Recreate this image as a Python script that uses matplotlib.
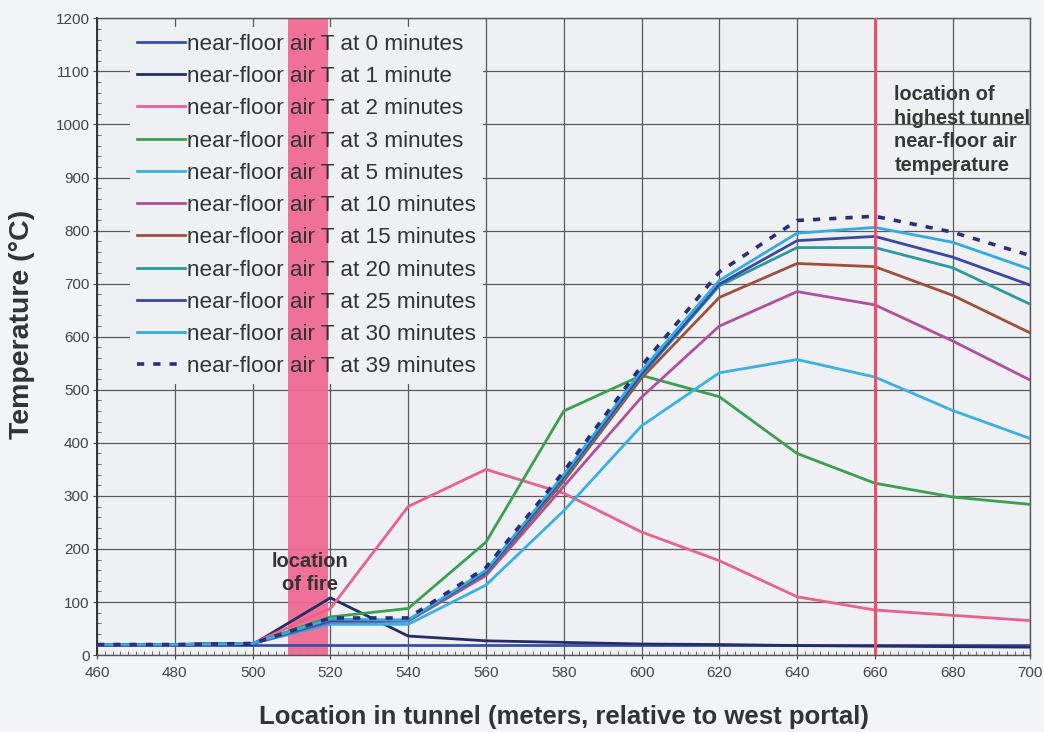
import matplotlib
matplotlib.use("Agg")
import matplotlib.pyplot as plt
from matplotlib.ticker import MultipleLocator

plt.rcParams['font.family'] = ['Liberation Sans', 'DejaVu Sans']

location = [460, 480, 500, 520, 540, 560, 580, 600, 620, 640, 660, 680, 700]

t0 = [20, 20, 20, 20, 20, 20, 20, 20, 20, 20, 20, 20, 20]
t1 = [20, 20, 20, 108, 36, 27, 24, 21, 20, 18, 17, 16, 15]
t2 = [20, 20, 22, 88, 280, 350, 305, 232, 178, 110, 85, 75, 65]
t3 = [20, 20, 22, 72, 88, 213, 460, 527, 487, 380, 324, 298, 284]
t5 = [20, 20, 22, 58, 58, 132, 272, 432, 532, 557, 524, 461, 408]
t10 = [20, 20, 22, 62, 64, 150, 318, 486, 620, 685, 660, 592, 518]
t15 = [20, 20, 22, 64, 65, 154, 328, 522, 674, 738, 732, 678, 607]
t20 = [20, 20, 22, 64, 65, 155, 333, 527, 696, 768, 768, 730, 661]
t25 = [20, 20, 22, 65, 66, 157, 336, 530, 699, 781, 789, 750, 697]
t30 = [20, 20, 22, 68, 66, 160, 340, 536, 706, 795, 806, 778, 727]
t39 = [20, 20, 22, 70, 70, 165, 346, 545, 722, 819, 827, 797, 753]

labels = ["near-floor air T at 0 minutes", "near-floor air T at 1 minute",
          "near-floor air T at 2 minutes", "near-floor air T at 3 minutes",
          "near-floor air T at 5 minutes", "near-floor air T at 10 minutes",
          "near-floor air T at 15 minutes", "near-floor air T at 20 minutes",
          "near-floor air T at 25 minutes", "near-floor air T at 30 minutes",
          "near-floor air T at 39 minutes"]
series = [t0, t1, t2, t3, t5, t10, t15, t20, t25, t30, t39]
colors = ["#3a4fa8", "#262c68", "#e8628c", "#3aa050", "#3ab0e4", "#b0509c",
          "#a0503a", "#2a9a9c", "#3a48a4", "#34aae2", "#2a2f7a"]
styles = ["-"] * 10 + [(0, (2.0, 2.5))]

fire_start, fire_end = 509, 519.5
peak_location = 660

bg = "#eef0f3"
fig = plt.figure(figsize=(10.44, 7.32), dpi=100, facecolor="#f3f4f6")
ax = fig.add_axes([0.093, 0.105, 0.894, 0.870])
ax.set_facecolor(bg)

for y, lab, c, ls in zip(series, labels, colors, styles):
    lw = 2.6 if ls != "-" else 2.0
    ax.plot(location, y, color=c, linestyle=ls, linewidth=lw, label=lab, zorder=3)

ax.axvspan(fire_start, fire_end, color="#f06a92", alpha=0.95, zorder=2, lw=0)
ax.axvline(peak_location, color="#f04e68", linewidth=2.2, zorder=4)

ax.set_xlim(460, 700)
ax.set_ylim(0, 1200)
ax.xaxis.set_major_locator(MultipleLocator(20))
ax.xaxis.set_minor_locator(MultipleLocator(2))
ax.yaxis.set_major_locator(MultipleLocator(100))
ax.yaxis.set_minor_locator(MultipleLocator(20))
ax.grid(True, which="major", color="#5a5a5a", linewidth=0.9, zorder=0.5)
ax.set_axisbelow(True)
ax.tick_params(axis="both", which="major", labelsize=11, labelcolor="#444444",
               color="#444444", length=3, pad=2.5, direction="out")
ax.tick_params(axis="x", which="major", pad=5)
ax.tick_params(axis="both", which="minor", color="#555555", length=3, direction="in")
for s in ax.spines.values():
    s.set_color("#555555")
    s.set_linewidth(1.0)
ax.spines["left"].set_color("#333333")
ax.spines["left"].set_linewidth(1.4)

ax.set_xlabel("Location in tunnel (meters, relative to west portal)", fontsize=18.5,
              fontweight="bold", color="#333333", labelpad=18)
ax.set_ylabel("Temperature (°C)", fontsize=20.5, fontweight="bold", color="#333333")
ax.yaxis.set_label_coords(-0.066, 0.52)

leg_kw = dict(loc="upper left", bbox_to_anchor=(0.023, 1.004), fontsize=16.2,
              handlelength=2.15, handletextpad=0.1, labelspacing=0.5,
              borderpad=0.3)
# background of the legend (under the fire band)
leg_bg = ax.legend(frameon=True, facecolor=bg, edgecolor="none", framealpha=1,
                   labelcolor=bg, **leg_kw)
for t in leg_bg.get_texts():
    t.set_alpha(0)
for h in leg_bg.get_lines():
    h.set_alpha(0)
leg_bg.set_zorder(1.5)
ax.add_artist(leg_bg)
# legend text and handles (above the fire band)
leg = ax.legend(frameon=False, labelcolor="#333333", **leg_kw)
leg.set_zorder(6)

ax.text(514.8, 195, "location\nof fire", fontsize=14.5, fontweight="bold",
        color="#333333", ha="center", va="top", linespacing=1.3, zorder=6)
ax.text(665, 1074, "location of\nhighest tunnel\nnear-floor air\ntemperature",
        fontsize=14.3, fontweight="bold", color="#333a33", ha="left", va="top",
        linespacing=1.3, zorder=6)

fig.savefig("out.png", dpi=100, facecolor=fig.get_facecolor())
